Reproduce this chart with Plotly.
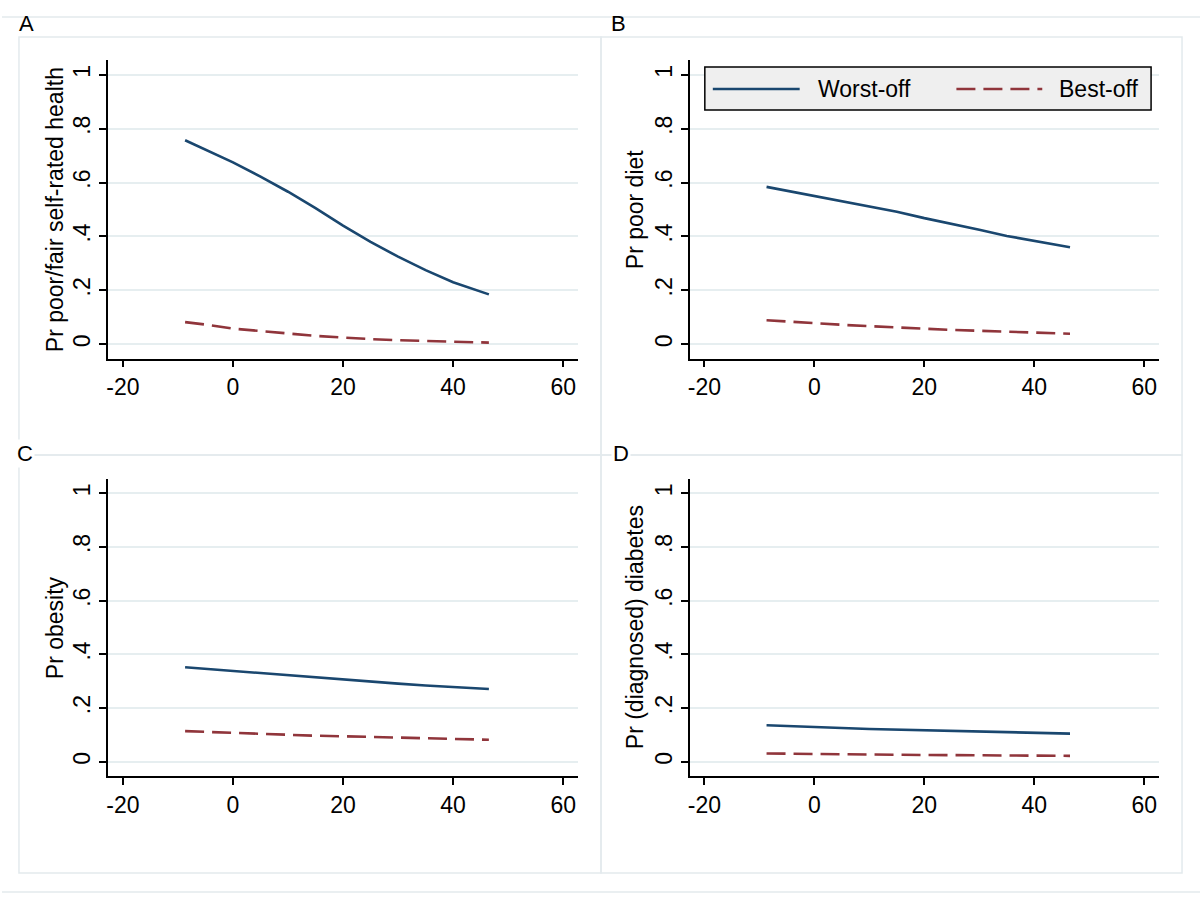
import plotly.graph_objects as go
from plotly.subplots import make_subplots

# ---------------- data ----------------
x_vals = [-8.7, -5, 0, 5, 10, 15, 20, 25, 30, 35, 40, 46.5]

health_worst = [0.757, 0.722, 0.675, 0.622, 0.566, 0.505, 0.440, 0.380, 0.325, 0.275, 0.230, 0.185]
health_best = [0.082, 0.073, 0.058, 0.048, 0.040, 0.031, 0.024, 0.019, 0.015, 0.012, 0.010, 0.006]

diet_worst = [0.584, 0.570, 0.551, 0.530, 0.511, 0.492, 0.468, 0.447, 0.425, 0.402, 0.383, 0.360]
diet_best = [0.089, 0.084, 0.077, 0.072, 0.067, 0.062, 0.057, 0.053, 0.050, 0.046, 0.042, 0.039]

obesity_worst = [0.352, 0.346, 0.338, 0.330, 0.322, 0.314, 0.306, 0.298, 0.291, 0.284, 0.278, 0.271]
obesity_best = [0.114, 0.111, 0.107, 0.103, 0.099, 0.097, 0.095, 0.093, 0.091, 0.088, 0.085, 0.082]

diabetes_worst = [0.136, 0.134, 0.131, 0.126, 0.122, 0.120, 0.118, 0.116, 0.113, 0.110, 0.108, 0.105]
diabetes_best = [0.031, 0.030, 0.027, 0.027, 0.027, 0.026, 0.025, 0.025, 0.025, 0.024, 0.023, 0.022]

panel_letters = ["A", "B", "C", "D"]
y_titles = ["Pr poor/fair self-rated health", "Pr poor diet", "Pr obesity", "Pr (diagnosed) diabetes"]
series_names = ["Worst-off", "Best-off"]

x_tickvals = [-20, 0, 20, 40, 60]
x_ticktext = ["-20", "0", "20", "40", "60"]
y_tickvals = [0, 0.2, 0.4, 0.6, 0.8, 1]
y_ticktext = ["0", ".2", ".4", ".6", ".8", "1"]

# ---------------- styling ----------------
W, H = 1200, 899
FONT = "Liberation Sans, Arial, Helvetica, sans-serif"
NAVY = "#1a476f"
MAROON = "#90353b"
GRID = "#e6eef0"
FRAME = "#e3eaed"
FS = 23


def px(x):
    return x / W


def py(y):
    return 1 - y / H


panels = [
    (health_worst, health_best),
    (diet_worst, diet_best),
    (obesity_worst, obesity_best),
    (diabetes_worst, diabetes_best),
]

fig = make_subplots(rows=2, cols=2)

# plot-area pixel boxes (left, right, top, bottom)
boxes = [
    (106.5, 577, 60, 358.5),
    (689, 1159, 60, 358.5),
    (106.5, 577, 478.5, 776),
    (689, 1159, 478.5, 776),
]
title_x = [53, 634, 53, 634]

for i, (worst, best) in enumerate(panels):
    r, c = i // 2 + 1, i % 2 + 1
    fig.add_trace(go.Scatter(x=x_vals, y=worst, mode="lines", name=series_names[0],
                             line=dict(color=NAVY, width=2.6), showlegend=False), row=r, col=c)
    fig.add_trace(go.Scatter(x=x_vals, y=best, mode="lines", name=series_names[1],
                             line=dict(color=MAROON, width=2.6, dash="19px,8px"), showlegend=False), row=r, col=c)

annotations = []
for i in range(4):
    l, rgt, t, b = boxes[i]
    sfx = "" if i == 0 else str(i + 1)
    fig.layout["xaxis" + sfx].update(
        domain=[px(l), px(rgt)], range=[-22.65, 62.7],
        tickvals=x_tickvals, ticktext=x_ticktext,
        showline=True, linecolor="black", linewidth=1.8,
        ticks="outside", ticklen=7, tickwidth=1.5, tickcolor="black",
        showgrid=False, zeroline=False,
        tickfont=dict(family=FONT, size=FS, color="black"),
    )
    fig.layout["yaxis" + sfx].update(
        domain=[py(b), py(t)], range=[-0.053, 1.055],
        tickvals=y_tickvals, ticktext=y_ticktext, tickangle=-90,
        showline=True, linecolor="black", linewidth=1.8,
        ticks="outside", ticklen=7, tickwidth=1.5, tickcolor="black",
        ticklabelstandoff=0,
        showgrid=True, gridcolor=GRID, gridwidth=1.5, zeroline=False,
        tickfont=dict(family=FONT, size=FS, color="black"),
    )
    # y-axis title (positioned as in the original)
    annotations.append(dict(text=y_titles[i], xref="paper", yref="paper",
                            x=px(title_x[i]), y=py((t + b) / 2), textangle=-90,
                            xanchor="center", yanchor="middle", showarrow=False,
                            font=dict(family=FONT, size=FS, color="black")))

shapes = []
# outer frame lines
shapes.append(dict(type="line", xref="paper", yref="paper", x0=0, x1=1, y0=py(17), y1=py(17),
                   line=dict(color=FRAME, width=1.5)))
shapes.append(dict(type="line", xref="paper", yref="paper", x0=0, x1=1, y0=py(892), y1=py(892),
                   line=dict(color=FRAME, width=1.5)))
cell_boxes = [(17, 600, 37, 455), (600, 1182, 37, 455), (17, 600, 455, 873), (600, 1182, 455, 873)]
for (l, rgt, t, b) in cell_boxes:
    shapes.append(dict(type="rect", xref="paper", yref="paper", x0=px(l), x1=px(rgt), y0=py(b), y1=py(t),
                       line=dict(color=FRAME, width=1.5), fillcolor="rgba(0,0,0,0)", layer="below"))

# legend (drawn in panel B)
shapes.append(dict(type="rect", xref="paper", yref="paper", x0=px(704), x1=px(1151), y0=py(110), y1=py(67),
                   line=dict(color="black", width=1.5), fillcolor="#efefef"))
shapes.append(dict(type="line", xref="paper", yref="paper", x0=px(712), x1=px(799), y0=py(89), y1=py(89),
                   line=dict(color=NAVY, width=2.6)))
shapes.append(dict(type="line", xref="paper", yref="paper", x0=px(956), x1=px(1042), y0=py(89), y1=py(89),
                   line=dict(color=MAROON, width=2.6, dash="19px,8px")))

annotations.append(dict(text=series_names[0], xref="paper", yref="paper", x=px(815), y=py(89),
                        xanchor="left", yanchor="middle", showarrow=False,
                        font=dict(family=FONT, size=FS, color="black")))
annotations.append(dict(text=series_names[1], xref="paper", yref="paper", x=px(1057), y=py(89),
                        xanchor="left", yanchor="middle", showarrow=False,
                        font=dict(family=FONT, size=FS, color="black")))

letter_pos = [(15, 23, False), (608, 23, False), (13, 453, True), (610, 453, True)]
for letter, (lx, ly, bg) in zip(panel_letters, letter_pos):
    annotations.append(dict(text=letter, xref="paper", yref="paper", x=px(lx), y=py(ly),
                            xanchor="left", yanchor="middle", showarrow=False,
                            bgcolor="white" if bg else None, borderpad=1,
                            font=dict(family=FONT, size=22, color="black")))

fig.update_layout(
    width=W, height=H,
    margin=dict(l=0, r=0, t=0, b=0),
    paper_bgcolor="white", plot_bgcolor="white",
    shapes=shapes, annotations=annotations,
    showlegend=False,
    font=dict(family=FONT, size=FS, color="black"),
)

fig.write_html("out.html", config={"displayModeBar": False},
               post_script="document.body.style.margin='0px';document.body.style.overflow='hidden';")
